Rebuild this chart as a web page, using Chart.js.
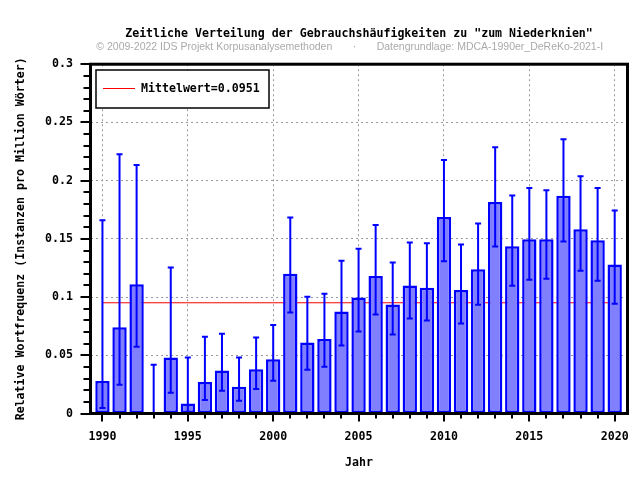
<!DOCTYPE html>
<html>
<head>
<meta charset="utf-8">
<script src="https://cdn.jsdelivr.net/npm/chart.js@4"></script>
<style>
  body { margin: 0; background: #fff; }
  #wrap { width: 640px; height: 480px; }
</style>
</head>
<body>
<div id="wrap"><canvas id="chart" width="640" height="480"></canvas></div>
<script>
const years = [
  1990, 1991, 1992, 1993, 1994, 1995, 1996, 1997, 1998, 1999,
  2000, 2001, 2002, 2003, 2004, 2005, 2006, 2007, 2008, 2009,
  2010, 2011, 2012, 2013, 2014, 2015, 2016, 2017, 2018, 2019, 2020
]
const frequencies = [
  0.028, 0.074, 0.111, 0, 0.048, 0.0086, 0.027, 0.037, 0.023, 0.038,
  0.0465, 0.120, 0.061, 0.064, 0.0876, 0.0997, 0.118, 0.0937, 0.110, 0.108,
  0.1687, 0.106, 0.124, 0.1816, 0.1437, 0.1497, 0.1497, 0.187, 0.1583, 0.1488, 0.128
]
const errorHigh = [
  0.166, 0.2227, 0.2135, 0.0419, 0.1255, 0.048, 0.066, 0.0684, 0.048, 0.0652,
  0.0761, 0.1684, 0.1003, 0.1028, 0.1313, 0.1416, 0.1618, 0.1296, 0.1468, 0.1463,
  0.2178, 0.1452, 0.1632, 0.2287, 0.1873, 0.1937, 0.1917, 0.2356, 0.2037, 0.1937, 0.1744
]
const errorLow = [
  0.0048, 0.0247, 0.0574, 0, 0.0178, 0.0014, 0.0115, 0.0195, 0.0109, 0.021,
  0.0281, 0.0868, 0.0376, 0.0402, 0.0583, 0.0704, 0.0851, 0.0678, 0.0816, 0.0799,
  0.1307, 0.0772, 0.0934, 0.1434, 0.1098, 0.1149, 0.1158, 0.1477, 0.1227, 0.114, 0.0942
]
const meanValue = 0.0951
const xTickValues = [1990, 1995, 2000, 2005, 2010, 2015, 2020]
const yTickValues = [0, 0.05, 0.1, 0.15, 0.2, 0.25, 0.3]
const yTickLabels = ["0", "0.05", "0.1", "0.15", "0.2", "0.25", "0.3"]

const monoFont = "'DejaVu Sans Mono', monospace"
const fontSize = 11.6

const overlayPlugin = {
  id: "overlay",
  afterDatasetsDraw(chart) {
    const ctx = chart.ctx
    const x = chart.scales.x
    const y = chart.scales.y
    const area = chart.chartArea

    ctx.save()

    // error bars
    ctx.strokeStyle = "#0000ff"
    ctx.lineWidth = 2
    years.forEach((year, i) => {
      const px = x.getPixelForValue(year)
      const top = y.getPixelForValue(errorHigh[i])
      const bottom = y.getPixelForValue(errorLow[i])
      ctx.beginPath()
      ctx.moveTo(px, top)
      ctx.lineTo(px, bottom)
      ctx.moveTo(px - 3, top)
      ctx.lineTo(px + 3, top)
      ctx.moveTo(px - 3, bottom)
      ctx.lineTo(px + 3, bottom)
      ctx.stroke()
    })

    // legend box
    ctx.fillStyle = "#fff"
    ctx.fillRect(96, 70, 173, 38)
    ctx.strokeStyle = "#000"
    ctx.lineWidth = 1.5
    ctx.strokeRect(96, 70, 173, 38)
    ctx.strokeStyle = "#ff0000"
    ctx.lineWidth = 1
    ctx.beginPath()
    ctx.moveTo(103, 88.5)
    ctx.lineTo(135, 88.5)
    ctx.stroke()
    ctx.fillStyle = "#000"
    ctx.font = `bold ${fontSize}px ${monoFont}`
    ctx.textBaseline = "middle"
    ctx.textAlign = "left"
    ctx.fillText(`Mittelwert=${meanValue}`, 141, 88.5)

    // tick marks
    ctx.strokeStyle = "#000"
    ctx.lineWidth = 2
    for (let i = 0; i <= 30; i++) {
      const py = Math.round(y.getPixelForValue(i / 100))
      const len = i % 5 === 0 ? 10 : 7
      ctx.beginPath()
      ctx.moveTo(area.left, py)
      ctx.lineTo(area.left - len, py)
      ctx.stroke()
    }
    years.forEach(year => {
      const px = Math.round(x.getPixelForValue(year))
      const len = year % 5 === 0 ? 8 : 5
      ctx.beginPath()
      ctx.moveTo(px, area.bottom)
      ctx.lineTo(px, area.bottom + len)
      ctx.stroke()
    })

    // frame
    ctx.lineWidth = 3
    ctx.strokeRect(area.left, area.top, area.right - area.left, area.bottom - area.top)

    ctx.restore()
  }
}

const chart = new Chart(document.getElementById("chart"), {
  type: "bar",
  data: {
    datasets: [
      {
        type: "bar",
        label: "Relative Wortfrequenz",
        data: years.map((year, i) => ({ x: year, y: frequencies[i] })),
        backgroundColor: "#8080ff",
        borderColor: "#0000ff",
        borderWidth: 2.5,
        borderSkipped: false,
        categoryPercentage: 1,
        barPercentage: 0.84,
        order: 1
      },
      {
        type: "line",
        label: `Mittelwert=${meanValue}`,
        data: [
          { x: years[0], y: meanValue },
          { x: years[years.length - 1], y: meanValue }
        ],
        borderColor: "#ff0000",
        borderWidth: 1,
        pointRadius: 0,
        order: 2
      }
    ]
  },
  plugins: [overlayPlugin],
  options: {
    responsive: false,
    animation: false,
    layout: {
      padding: { left: 0, right: 12.5, top: 0, bottom: 0 }
    },
    plugins: {
      legend: { display: false },
      tooltip: { enabled: false },
      title: {
        display: true,
        fullSize: false,
        text: "Zeitliche Verteilung der Gebrauchshäufigkeiten zu \"zum Niederknien\"",
        color: "#000",
        font: { family: monoFont, size: fontSize, weight: "bold", lineHeight: 1.2 },
        padding: { top: 27, bottom: 0 }
      },
      subtitle: {
        display: true,
        fullSize: false,
        align: "start",
        text: "  © 2009-2022 IDS Projekt Korpusanalysemethoden       ·       Datengrundlage: MDCA-1990er_DeReKo-2021-I",
        color: "#aaaaaa",
        font: { family: "'Liberation Sans', Arial, sans-serif", size: 10.5, lineHeight: 1.2 },
        padding: { top: 0, bottom: 10.7 }
      }
    },
    scales: {
      x: {
        type: "linear",
        min: 1989.3,
        max: 2020.75,
        offset: false,
        afterFit: scale => {
          scale.height = 66.5
          scale.paddingLeft = 0
          scale.paddingRight = 0
        },
        afterBuildTicks: scale => {
          scale.ticks = xTickValues.map(value => ({ value }))
        },
        ticks: {
          autoSkip: false,
          maxRotation: 0,
          padding: 17,
          color: "#000",
          font: { family: monoFont, size: fontSize, weight: "bold" },
          callback: value => String(value)
        },
        grid: {
          offset: false,
          drawTicks: false,
          color: "#999999",
          lineWidth: 1
        },
        border: { display: false, dash: [2, 3] },
        title: {
          display: true,
          text: "Jahr",
          color: "#000",
          font: { family: monoFont, size: fontSize, weight: "bold", lineHeight: 1.2 },
          padding: { top: 0, bottom: 10 }
        }
      },
      y: {
        min: 0,
        max: 0.3,
        afterFit: scale => { scale.width = 90.5 },
        afterBuildTicks: scale => {
          scale.ticks = yTickValues.map(value => ({ value }))
        },
        ticks: {
          padding: 17.5,
          color: "#000",
          font: { family: monoFont, size: fontSize, weight: "bold" },
          callback: (value, index) => yTickLabels[index]
        },
        grid: {
          drawTicks: false,
          color: "#999999",
          lineWidth: 1
        },
        border: { display: false, dash: [2, 3] },
        title: {
          display: true,
          text: "Relative Wortfrequenz (Instanzen pro Million Wörter)",
          color: "#000",
          font: { family: monoFont, size: fontSize, weight: "bold", lineHeight: 1.2 },
          padding: { top: 14, bottom: 0 }
        }
      }
    }
  }
})
</script>
</body>
</html>
